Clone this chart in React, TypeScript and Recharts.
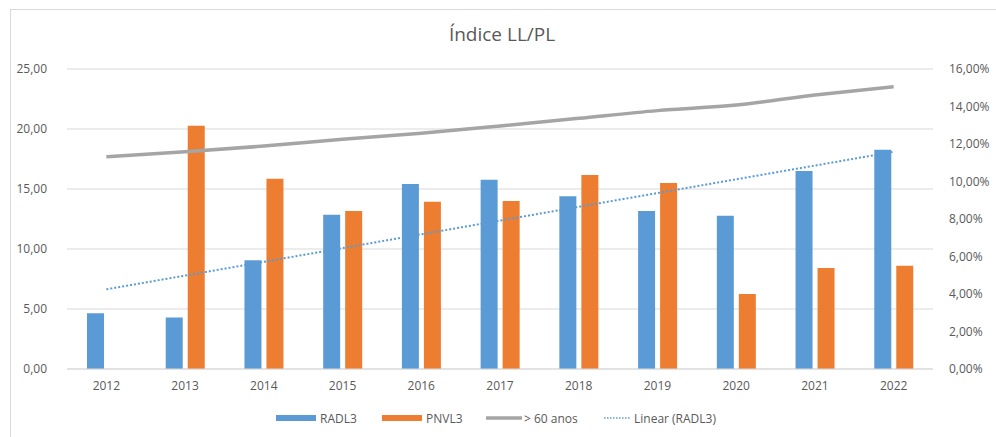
import React from 'react';
import { ComposedChart, Bar, Line, XAxis, YAxis, CartesianGrid, Legend } from 'recharts';

const years = ['2012', '2013', '2014', '2015', '2016', '2017', '2018', '2019', '2020', '2021', '2022'];
const radl3 = [4.64, 4.3, 9.06, 12.86, 15.42, 15.78, 14.39, 13.17, 12.78, 16.5, 18.28];
const pnvl3: (number | null)[] = [null, 20.27, 15.86, 13.17, 13.94, 14.0, 16.17, 15.5, 6.25, 8.42, 8.61];
const over60 = [11.32, 11.59, 11.89, 12.25, 12.57, 12.96, 13.37, 13.78, 14.08, 14.61, 15.06];
const trendRadl3: (number | null)[] = [6.64, null, null, null, null, null, null, null, null, null, 18.1];
const leftTicks = [0, 5, 10, 15, 20, 25];
const rightTicks = [0, 2, 4, 6, 8, 10, 12, 14, 16];

const data = years.map((y, i) => ({
  year: y,
  RADL3: radl3[i],
  PNVL3: pnvl3[i],
  over60: over60[i],
  trend: trendRadl3[i],
}));

const FONT = '"Open Sans", "Noto Sans", sans-serif';
const TXT = '#595959';

const fmtLeft = (v: number) => v.toFixed(2).replace('.', ',');
const fmtRight = (v: number) => v.toFixed(2).replace('.', ',') + '%';

const legendItems = [
  { label: 'RADL3', kind: 'bar', color: '#5B9BD5', x: 276 },
  { label: 'PNVL3', kind: 'bar', color: '#ED7D31', x: 382 },
  { label: '> 60 anos', kind: 'line', color: '#A5A5A5', x: 486 },
  { label: 'Linear (RADL3)', kind: 'dot', color: '#5B9BD5', x: 604 },
];

const LegendContent = () => (
  <svg width={996} height={30} style={{ display: 'block' }}>
    {legendItems.map((it) => (
      <g key={it.label}>
        {it.kind === 'bar' && <rect x={it.x} y={12} width={40} height={6} fill={it.color} />}
        {it.kind === 'line' && (
          <line x1={it.x} x2={it.x + 36} y1={15} y2={15} stroke={it.color} strokeWidth={3.5} />
        )}
        {it.kind === 'dot' && (
          <line x1={it.x} x2={it.x + 27} y1={15} y2={15} stroke={it.color} strokeWidth={1.5} strokeDasharray="1.5 1.5" />
        )}
        <text
          x={it.kind === 'bar' ? it.x + 44 : it.kind === 'line' ? it.x + 38 : it.x + 30}
          y={19.5}
          fontSize={12}
          fontFamily={FONT}
          fill={TXT}
        >
          {it.label}
        </text>
      </g>
    ))}
  </svg>
);

export default function App() {
  return (
    <div style={{ position: 'fixed', left: 0, top: 0, width: 996, height: 437, background: '#fff', overflow: 'hidden' }}>
      <div
        style={{
          position: 'absolute',
          left: 10,
          top: 9,
          width: 1100,
          height: 500,
          border: '1.5px solid #d9d9d9',
          pointerEvents: 'none',
        }}
      />
      <div
        style={{
          position: 'absolute',
          top: 21,
          left: 0,
          width: 1004,
          textAlign: 'center',
          fontFamily: FONT,
          fontSize: 19,
          color: TXT,
        }}
      >
        Índice LL/PL
      </div>
      <div style={{ position: 'absolute', left: 0, top: 0 }}>
        <ComposedChart
          width={996}
          height={437}
          data={data}
          margin={{ top: 69, right: 0, left: 0, bottom: 4 }}
          barSize={17}
          barGap={5}
        >
          <CartesianGrid yAxisId="left" vertical={false} stroke="#d9d9d9" strokeWidth={1} />
          <XAxis
            dataKey="year"
            height={34}
            tickLine={false}
            axisLine={{ stroke: '#d9d9d9' }}
            tick={{ fontSize: 12, fontFamily: FONT, fill: TXT }}
            tickMargin={6}
          />
          <YAxis
            yAxisId="left"
            orientation="left"
            width={67}
            domain={[0, 25]}
            ticks={leftTicks}
            tickFormatter={fmtLeft}
            axisLine={false}
            tickLine={false}
            tick={{ fontSize: 12, fontFamily: FONT, fill: TXT }}
            tickMargin={14}
          />
          <YAxis
            yAxisId="right"
            orientation="right"
            width={63}
            domain={[0, 16]}
            ticks={rightTicks}
            tickFormatter={fmtRight}
            axisLine={false}
            tickLine={false}
            tick={{ fontSize: 12, fontFamily: FONT, fill: TXT }}
            tickMargin={10}
          />
          <Bar yAxisId="left" dataKey="RADL3" fill="#5B9BD5" isAnimationActive={false} />
          <Bar yAxisId="left" dataKey="PNVL3" fill="#ED7D31" isAnimationActive={false} />
          <Line
            yAxisId="right"
            dataKey="over60"
            type="monotone"
            stroke="#A5A5A5"
            strokeWidth={3.5}
            dot={false}
            isAnimationActive={false}
          />
          <Line
            yAxisId="left"
            dataKey="trend"
            type="linear"
            connectNulls
            stroke="#5B9BD5"
            strokeWidth={2}
            strokeDasharray="2 2"
            dot={false}
            isAnimationActive={false}
          />
          <Legend verticalAlign="bottom" height={30} content={<LegendContent />} />
        </ComposedChart>
      </div>
    </div>
  );
}
